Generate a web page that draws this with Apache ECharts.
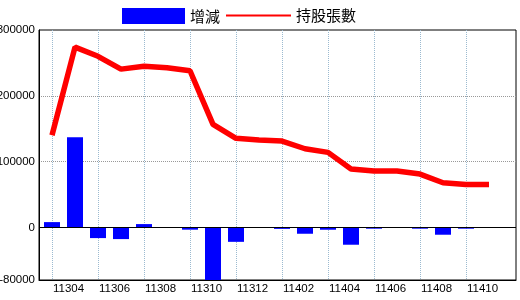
<!DOCTYPE html>
<html>
<head>
<meta charset="utf-8">
<script src="https://cdn.jsdelivr.net/npm/echarts@6/dist/echarts.min.js"></script>
<style>html,body{margin:0;padding:0;background:#fff}#c{width:520px;height:300px}</style>
</head>
<body>
<div id="c"></div>
<script>
var categories = ['11303','11304','11305','11306','11307','11308','11309','11310','11311','11312',
                  '11401','11402','11403','11404','11405','11406','11407','11408','11409','11410'];
var changes = [8000, 137000, -16300, -17800, 5000, 0, -3500, -82000, -22000, 0,
               -2300, -9700, -3600, -26400, -2000, 0, -2000, -11200, -2000, 0];
var holdings = [140000, 274000, 260000, 240500, 245000, 242500, 238000, 156500, 135300, 132700,
                131200, 119500, 114000, 88600, 85600, 85600, 81000, 67800, 65300, 65300];
var yLabelValues = [-80000, 0, 100000, 200000, 300000];
var yGridValues = [100000, 200000];

var xLabelIdx = [], xGridIdx = [];
for (var i = 0; i < categories.length; i++) { if (i % 2) xLabelIdx.push(i); else xGridIdx.push(i); }

var numFont = "'Liberation Sans',sans-serif";
var cjkFont = "'Noto Sans CJK TC','Noto Sans CJK SC',sans-serif";

var chart = echarts.init(document.getElementById('c'), null, {renderer: 'canvas'});
chart.setOption({
  animation: false,
  backgroundColor: '#fff',
  legend: [
    {data: ['增減'], left: 122, top: 8, padding: 0, itemWidth: 63, itemHeight: 16, icon: 'rect',
     textStyle: {fontFamily: cjkFont, fontSize: 15, color: '#000'}},
    {data: ['持股張數'], left: 226, top: 8, padding: 0, itemWidth: 65, itemHeight: 2, icon: 'rect',
     itemStyle: {color: '#ff0000', borderWidth: 0},
     textStyle: {fontFamily: cjkFont, fontSize: 15, color: '#000'}}
  ],
  grid: {left: 39, right: 4, top: 30, bottom: 20, show: true, borderColor: '#000', borderWidth: 1,
         containLabel: false, outerBoundsMode: 'none'},
  xAxis: {
    type: 'value',
    min: -13 / 23,
    max: -13 / 23 + 477 / 23,
    axisLine: {show: true, onZero: false, lineStyle: {color: '#000'}},
    axisTick: {show: false, customValues: xGridIdx},
    axisLabel: {
      customValues: xLabelIdx,
      formatter: function (v) { return categories[Math.round(v)] || ''; },
      fontFamily: numFont, fontSize: 11.5, color: '#000', margin: 3, padding: [0, 13, 0, 0]
    },
    splitLine: {show: true, lineStyle: {color: '#9bbad0', type: [1, 1], width: 1}}
  },
  yAxis: {
    type: 'value',
    min: -80000,
    max: 300000,
    axisLine: {show: true, onZero: false, lineStyle: {color: '#000'}},
    axisTick: {show: false, customValues: yGridValues},
    axisLabel: {customValues: yLabelValues, formatter: function (v) { return String(v); },
                fontFamily: numFont, fontSize: 11.5, color: '#000', margin: 4},
    splitLine: {show: true, lineStyle: {color: '#999', type: [1, 1], width: 1}}
  },
  series: [
    {
      name: '增減', type: 'bar', barWidth: 16,
      itemStyle: {color: '#0000ff'},
      data: changes.map(function (v, i) { return [i, v]; }),
      markLine: {silent: true, symbol: 'none', label: {show: false},
        lineStyle: {color: '#000', type: 'solid', width: 1},
        data: [{yAxis: 0}]}
    },
    {
      name: '持股張數', type: 'line', symbol: 'none',
      lineStyle: {color: '#ff0000', width: 5.5},
      itemStyle: {color: '#ff0000'},
      data: holdings.map(function (v, i) { return [i, v]; })
    }
  ]
});
</script>
</body>
</html>
